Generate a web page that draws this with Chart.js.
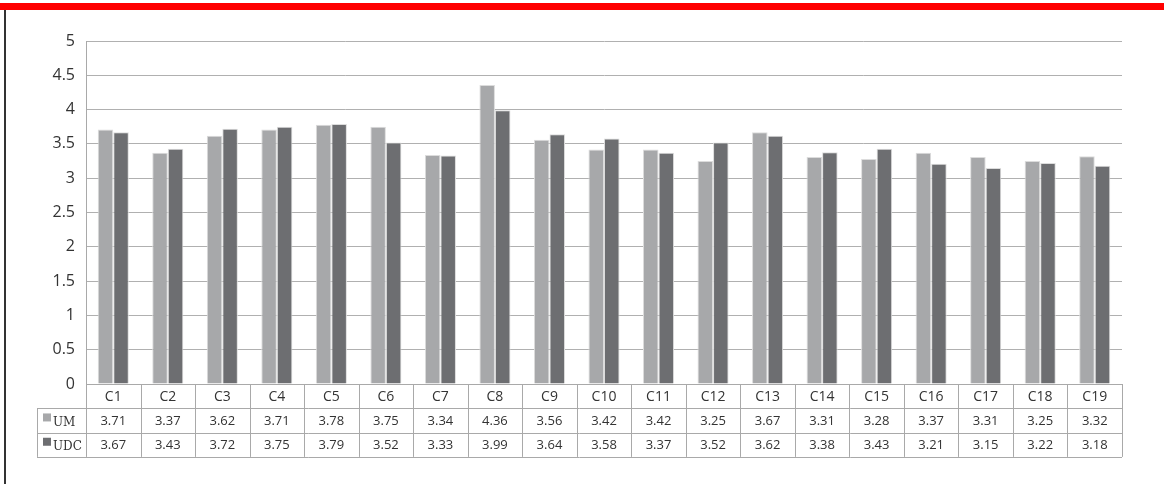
<!DOCTYPE html>
<html lang="en">
<head>
    <meta charset="UTF-8">
    <title>UM vs UDC</title>
    <script src="https://cdn.jsdelivr.net/npm/chart.js"></script>
    <style>
        body { margin: 0; background: #fff; }
        #wrap { position: relative; width: 1164px; height: 484px; }
        #redbar { position: absolute; left: 0; top: 3px; width: 1164px; height: 7px; background: #ff0000; }
        #leftline { position: absolute; left: 4px; top: 10px; width: 2px; height: 474px; background: #333; }
    </style>
</head>
<body>
<div id="wrap">
    <div id="redbar"></div>
    <div id="leftline"></div>
    <canvas id="chart"></canvas>
</div>
<script>
    const categories = ['C1','C2','C3','C4','C5','C6','C7','C8','C9','C10','C11','C12','C13','C14','C15','C16','C17','C18','C19'];
    const umValues = [3.71,3.37,3.62,3.71,3.78,3.75,3.34,4.36,3.56,3.42,3.42,3.25,3.67,3.31,3.28,3.37,3.31,3.25,3.32];
    const udcValues = [3.67,3.43,3.72,3.75,3.79,3.52,3.33,3.99,3.64,3.58,3.37,3.52,3.62,3.38,3.43,3.21,3.15,3.22,3.18];
    const seriesNames = ['UM', 'UDC'];
    const seriesColors = ['#a7a8aa', '#6d6e71'];

    const textColor = '#333333';
    const lineColor = '#a9a9a9';
    const ROW_H = 24.3;

    // draws the data table under the plot, columns follow the x scale
    const dataTable = {
        id: 'dataTable',
        afterDraw(chart) {
            const ctx = chart.ctx;
            const x = chart.scales.x;
            const area = chart.chartArea;
            const colW = x.width / categories.length;
            const top = area.bottom;
            const legendLeft = 37;
            ctx.save();
            ctx.strokeStyle = lineColor;
            ctx.lineWidth = 1;
            ctx.beginPath();
            // horizontal lines
            ctx.moveTo(area.left, top + 0.5); ctx.lineTo(area.right, top + 0.5);
            for (let r = 1; r <= 3; r++) {
                const y = Math.round(top + r * ROW_H) + 0.5;
                ctx.moveTo(legendLeft, y); ctx.lineTo(area.right, y);
            }
            // vertical lines
            for (let i = 0; i <= categories.length; i++) {
                const xx = Math.round(area.left + i * colW) + 0.5;
                ctx.moveTo(xx, top); ctx.lineTo(xx, top + 3 * ROW_H);
            }
            ctx.moveTo(legendLeft + 0.5, top + ROW_H); ctx.lineTo(legendLeft + 0.5, top + 3 * ROW_H);
            ctx.stroke();

            ctx.fillStyle = textColor;
            ctx.textAlign = 'center';
            ctx.textBaseline = 'middle';
            ctx.font = '14px "Open Sans"';
            categories.forEach((c, i) => {
                ctx.fillText(c, x.getPixelForValue(i), top + ROW_H / 2 + 1);
            });
            ctx.font = '13px "Open Sans"';
            [umValues, udcValues].forEach((vals, r) => {
                vals.forEach((v, i) => {
                    ctx.fillText(v.toFixed(2), x.getPixelForValue(i), top + ROW_H * (r + 1.5) + 1);
                });
            });
            // legend keys
            ctx.textAlign = 'left';
            ctx.font = '12px "DejaVu Serif"';
            seriesNames.forEach((name, r) => {
                const cy = top + ROW_H * (r + 1.5);
                ctx.fillStyle = seriesColors[r];
                ctx.fillRect(legendLeft + 6, cy - 7, 8, 8);
                ctx.fillStyle = textColor;
                ctx.fillText(name, legendLeft + 16, cy + 2);
            });
            ctx.restore();
        }
    };

    new Chart(document.getElementById('chart'), {
        type: 'bar',
        data: {
            labels: categories,
            datasets: [
                { label: seriesNames[0], data: umValues, backgroundColor: seriesColors[0], borderColor: '#dcdcdc', borderWidth: 1 },
                { label: seriesNames[1], data: udcValues, backgroundColor: seriesColors[1], borderColor: '#dcdcdc', borderWidth: 1 }
            ]
        },
        options: {
            responsive: true,
            maintainAspectRatio: false,
            animation: false,
            layout: { padding: { top: 41, right: 42, bottom: 100, left: 0 } },
            plugins: { legend: { display: false }, tooltip: { enabled: false } },
            datasets: { bar: { categoryPercentage: 0.57, barPercentage: 1.0 } },
            scales: {
                x: {
                    ticks: { display: false },
                    grid: { display: false },
                    border: { display: false },
                    afterFit(scale) { scale.height = 0; }
                },
                y: {
                    min: 0,
                    max: 5,
                    ticks: {
                        stepSize: 0.5,
                        color: textColor,
                        font: { family: 'Open Sans', size: 16 },
                        padding: 11,
                        callback: value => String(value)
                    },
                    grid: { color: '#b0b0b0', drawTicks: false },
                    border: { display: true, color: lineColor },
                    afterFit(scale) { scale.width = 86; }
                }
            }
        },
        plugins: [dataTable]
    });
</script>
</body>
</html>
